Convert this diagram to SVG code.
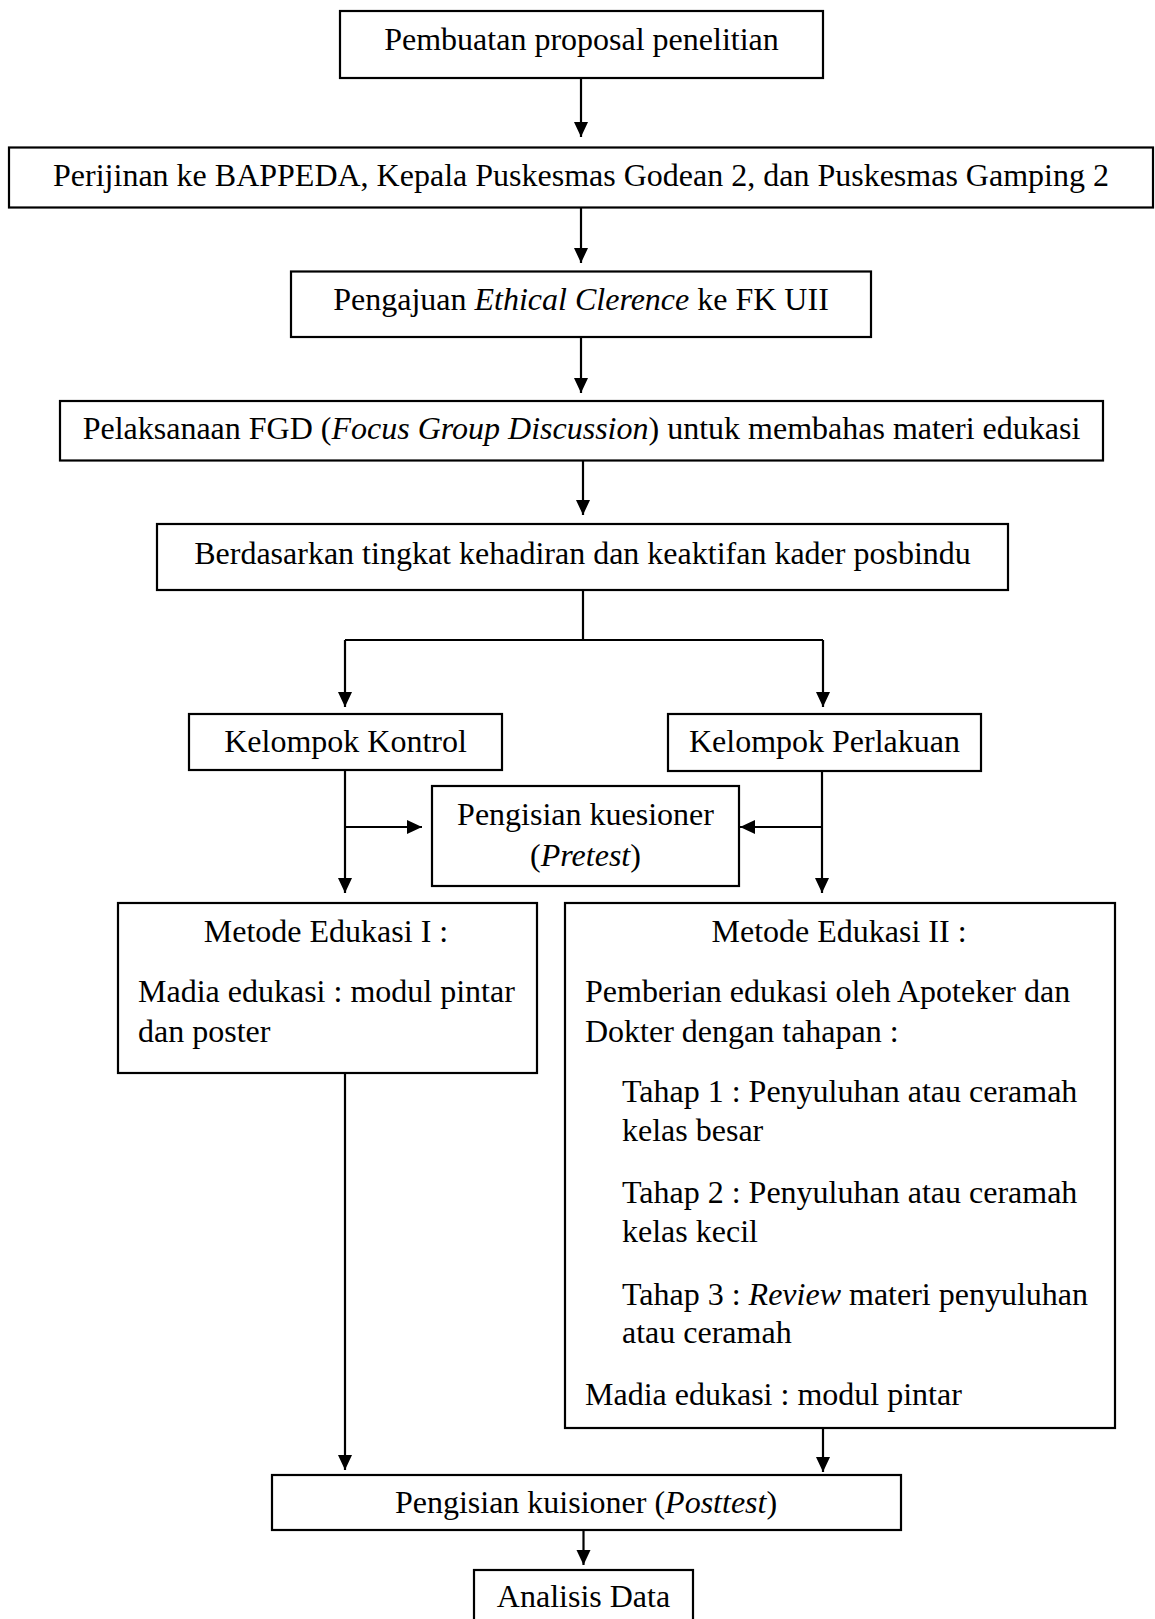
<svg xmlns="http://www.w3.org/2000/svg" width="1155" height="1619" viewBox="0 0 1155 1619">
<style>
.box{fill:#fff;stroke:#000;stroke-width:2.2}
.t{font-family:"Liberation Serif","Times New Roman",serif;font-size:32px;fill:#000}
.c{text-anchor:middle}
.i{font-style:italic}
.ln{fill:none;stroke:#000;stroke-width:2.2}
</style>
<defs>
<marker id="ah" markerUnits="userSpaceOnUse" markerWidth="16" markerHeight="16" refX="15" refY="7" orient="auto">
<path d="M0,0 L15,7 L0,14 z" fill="#000"/>
</marker>
</defs>
<rect width="1155" height="1619" fill="#fff"/>
<g id="connectors">
<line class="ln" x1="581" y1="78" x2="581" y2="137" marker-end="url(#ah)"/>
<line class="ln" x1="581" y1="208" x2="581" y2="263" marker-end="url(#ah)"/>
<line class="ln" x1="581" y1="337" x2="581" y2="393" marker-end="url(#ah)"/>
<line class="ln" x1="583" y1="461" x2="583" y2="515" marker-end="url(#ah)"/>
<polyline class="ln" points="583,590 583,640"/>
<polyline class="ln" points="345,640 823,640"/>
<line class="ln" x1="345" y1="640" x2="345" y2="707" marker-end="url(#ah)"/>
<line class="ln" x1="823" y1="640" x2="823" y2="707" marker-end="url(#ah)"/>
<line class="ln" x1="345" y1="770" x2="345" y2="893" marker-end="url(#ah)"/>
<line class="ln" x1="822" y1="771" x2="822" y2="893" marker-end="url(#ah)"/>
<line class="ln" x1="345" y1="827" x2="422" y2="827" marker-end="url(#ah)"/>
<line class="ln" x1="822" y1="827" x2="740" y2="827" marker-end="url(#ah)"/>
<line class="ln" x1="345" y1="1073" x2="345" y2="1470" marker-end="url(#ah)"/>
<line class="ln" x1="823" y1="1428" x2="823" y2="1472" marker-end="url(#ah)"/>
<line class="ln" x1="583.5" y1="1530" x2="583.5" y2="1565" marker-end="url(#ah)"/>
</g>
<g id="n1"><rect class="box" x="340" y="11" width="483" height="67"/><text class="t c" x="581.5" y="50">Pembuatan proposal penelitian</text></g>
<g id="n2"><rect class="box" x="9" y="147.5" width="1144" height="60"/><text class="t c" x="581" y="186">Perijinan ke BAPPEDA, Kepala Puskesmas Godean 2, dan Puskesmas Gamping 2</text></g>
<g id="n3"><rect class="box" x="291" y="271.5" width="580" height="65.5"/><text class="t c" x="581" y="310">Pengajuan <tspan class="i">Ethical Clerence</tspan> ke FK UII</text></g>
<g id="n4"><rect class="box" x="60" y="401" width="1043" height="59.5"/><text class="t c" x="581.5" y="438.5">Pelaksanaan FGD (<tspan class="i">Focus Group Discussion</tspan>) untuk membahas materi edukasi</text></g>
<g id="n5"><rect class="box" x="157" y="524" width="851" height="66"/><text class="t c" x="582.5" y="564">Berdasarkan tingkat kehadiran dan keaktifan kader posbindu</text></g>
<g id="n6"><rect class="box" x="189" y="714" width="313" height="56"/><text class="t c" x="345.5" y="752">Kelompok Kontrol</text></g>
<g id="n7"><rect class="box" x="668" y="714" width="313" height="57"/><text class="t c" x="824.5" y="752">Kelompok Perlakuan</text></g>
<g id="n8"><rect class="box" x="432" y="786" width="307" height="100"/><text class="t c" x="585.5" y="825">Pengisian kuesioner</text><text class="t c" x="585.5" y="866">(<tspan class="i">Pretest</tspan>)</text></g>
<g id="n9"><rect class="box" x="118" y="903" width="419" height="170"/>
<text class="t c" x="326" y="942">Metode Edukasi I :</text>
<text class="t" x="138" y="1002">Madia edukasi : modul pintar</text>
<text class="t" x="138" y="1042">dan poster</text></g>
<g id="n10"><rect class="box" x="565" y="903" width="550" height="525"/>
<text class="t c" x="839" y="942">Metode Edukasi II :</text>
<text class="t" x="585" y="1002">Pemberian edukasi oleh Apoteker dan</text>
<text class="t" x="585" y="1042">Dokter dengan tahapan :</text>
<text class="t" x="622" y="1102">Tahap 1 : Penyuluhan atau ceramah</text>
<text class="t" x="622" y="1141">kelas besar</text>
<text class="t" x="622" y="1203">Tahap 2 : Penyuluhan atau ceramah</text>
<text class="t" x="622" y="1242">kelas kecil</text>
<text class="t" x="622" y="1305">Tahap 3 : <tspan class="i">Review</tspan> materi penyuluhan</text>
<text class="t" x="622" y="1343">atau ceramah</text>
<text class="t" x="585" y="1405">Madia edukasi : modul pintar</text></g>
<g id="n11"><rect class="box" x="272" y="1475" width="629" height="55"/><text class="t c" x="586" y="1513">Pengisian kuisioner (<tspan class="i">Posttest</tspan>)</text></g>
<g id="n12"><rect class="box" x="474" y="1570" width="219" height="80"/><text class="t c" x="583.5" y="1607">Analisis Data</text></g>
</svg>
